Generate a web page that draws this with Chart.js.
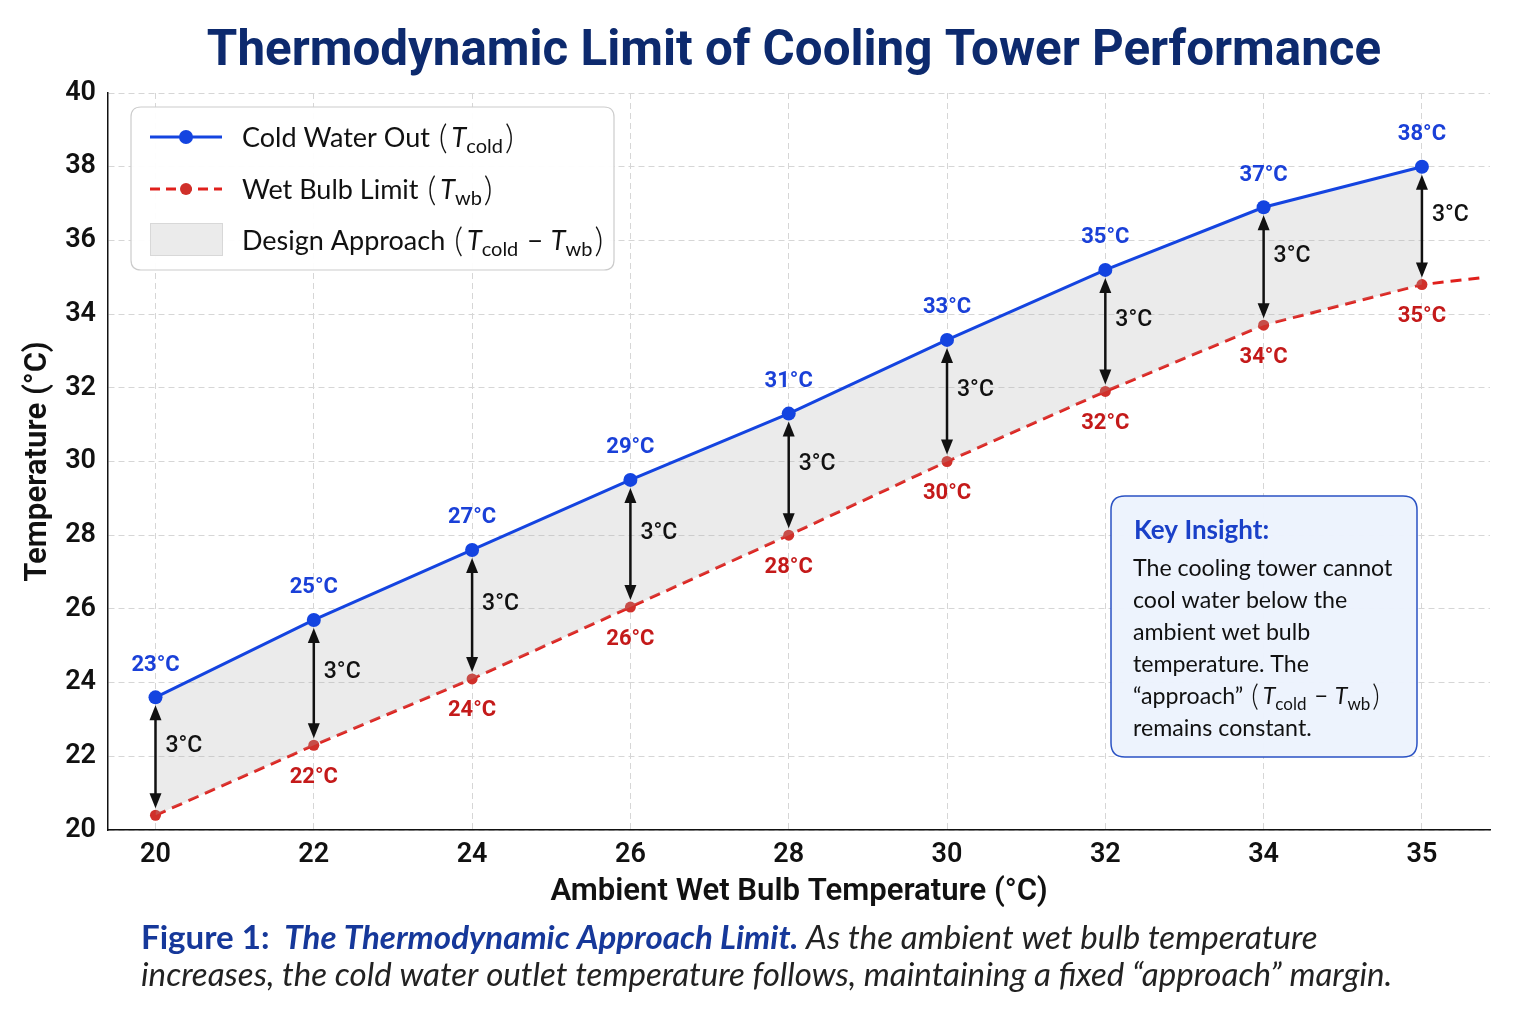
<!DOCTYPE html>
<html><head><meta charset="utf-8">
<script src="https://cdn.jsdelivr.net/npm/chart.js@4.4.1/dist/chart.umd.min.js"></script>
<style>html,body{margin:0;padding:0;background:#fff;}canvas{display:block;}</style>
</head><body>
<canvas id="c" width="1536" height="1024"></canvas>
<script>
// ---------- data ----------
const categories = ['20','22','24','26','28','30','32','34','35'];
const coldWaterOut = [23.6, 25.7, 27.6, 29.5, 31.3, 33.3, 35.2, 36.9, 38.0];
const wetBulbLimit = [20.4, 22.3, 24.1, 26.05, 28.0, 30.0, 31.9, 33.7, 34.8];
const wetBulbTailPos = 8.4;     // dashed line continues past last category
const wetBulbTailValue = 35.0;
const coldLabels = ['23°C','25°C','27°C','29°C','31°C','33°C','35°C','37°C','38°C'];
const wetLabels = ['','22°C','24°C','26°C','28°C','30°C','32°C','34°C','35°C'];
const approachLabels = ['3°C','3°C','3°C','3°C','3°C','3°C','3°C','3°C','3°C'];
const yMin = 20, yMax = 40, yStep = 2;

const titleText = 'Thermodynamic Limit of Cooling Tower Performance';
const xTitle = 'Ambient Wet Bulb Temperature (°C)';
const yTitle = 'Temperature (°C)';
const insightTitle = 'Key Insight:';
const insightLines = ['The cooling tower cannot','cool water below the','ambient wet bulb','temperature. The'];

// ---------- helpers ----------
const mctx = document.createElement('canvas').getContext('2d');
function fit(text, fontTpl, target) {
  mctx.font = fontTpl.replace('{s}', 100);
  const w = mctx.measureText(text).width;
  return Math.round(100 * target / w * 10) / 10;
}
const SANS = "Roboto, 'Liberation Sans', Arial, sans-serif";
const HUM = "Lato, 'Open Sans', 'Noto Sans', sans-serif";
const xTitleSize = fit(xTitle, "600 {s}px " + SANS, 498);
const yTitleSize = fit(yTitle, "600 {s}px " + SANS, 241);

function drawRich(ctx, x, y, segs) {
  ctx.textBaseline = 'alphabetic';
  ctx.textAlign = 'left';
  for (const s of segs) {
    ctx.font = s.font;
    ctx.fillStyle = s.color || '#111';
    ctx.fillText(s.text, x, y + (s.dy || 0));
    x += ctx.measureText(s.text).width + (s.gap || 0);
  }
  return x;
}
function mathSegs(size, parts) {
  // kinds: 'n' normal, 'i' italic, 's' subscript, 'p' big paren, 'm' operator
  return parts.map(([t, k]) => {
    if (k === 'i') return {text: t, font: `italic ${size}px ${HUM}`};
    if (k === 's') return {text: t, font: `${Math.round(size*0.74)}px ${HUM}`, dy: size*0.24, gap: 2};
    if (k === 'p') return {text: t, font: `300 ${Math.round(size*1.25)}px ${HUM}`, dy: size*0.07, gap: 4};
    if (k === 'm') return {text: t, font: `${size}px ${HUM}`, gap: 1};
    return {text: t, font: `${size}px ${HUM}`, gap: 2};
  });
}
function roundRect(ctx, x, y, w, h, r) {
  ctx.beginPath();
  ctx.moveTo(x+r, y); ctx.lineTo(x+w-r, y); ctx.quadraticCurveTo(x+w, y, x+w, y+r);
  ctx.lineTo(x+w, y+h-r); ctx.quadraticCurveTo(x+w, y+h, x+w-r, y+h);
  ctx.lineTo(x+r, y+h); ctx.quadraticCurveTo(x, y+h, x, y+h-r);
  ctx.lineTo(x, y+r); ctx.quadraticCurveTo(x, y, x+r, y); ctx.closePath();
}
function arrow(ctx, x, yTop, yBot) {
  const hl = 15, hw = 6;
  ctx.save();
  ctx.strokeStyle = '#111'; ctx.fillStyle = '#111'; ctx.lineWidth = 2.5;
  ctx.beginPath(); ctx.moveTo(x, yTop + hl - 2); ctx.lineTo(x, yBot - hl + 2); ctx.stroke();
  ctx.beginPath(); ctx.moveTo(x, yTop); ctx.lineTo(x - hw, yTop + hl); ctx.lineTo(x + hw, yTop + hl); ctx.closePath(); ctx.fill();
  ctx.beginPath(); ctx.moveTo(x, yBot); ctx.lineTo(x - hw, yBot - hl); ctx.lineTo(x + hw, yBot - hl); ctx.closePath(); ctx.fill();
  ctx.restore();
}

const BLUE = '#1444e0', RED = '#e0201c';

const decor = {
  id: 'decor',
  beforeDraw(chart) {
    const ctx = chart.ctx;
    ctx.save(); ctx.fillStyle = '#fff'; ctx.fillRect(0, 0, chart.width, chart.height); ctx.restore();
  },
  afterDatasetsDraw(chart) {
    const ctx = chart.ctx;
    const blue = chart.getDatasetMeta(0).data;
    const red = chart.getDatasetMeta(1).data;
    ctx.save();
    for (let i = 0; i < categories.length; i++) {
      const b = blue[i], r = red[i];
      arrow(ctx, b.x, b.y + 8, r.y - 7);
      ctx.font = `500 23px ${SANS}`; ctx.fillStyle = '#111';
      ctx.textAlign = 'left'; ctx.textBaseline = 'middle';
      ctx.fillText(approachLabels[i], b.x + 10, (b.y + r.y) / 2 - 10);
    }
    ctx.textAlign = 'center'; ctx.textBaseline = 'middle';
    ctx.font = `bold 22px ${SANS}`;
    for (let i = 0; i < categories.length; i++) {
      ctx.fillStyle = '#1a40d8';
      ctx.fillText(coldLabels[i], blue[i].x, blue[i].y - 32);
      if (wetLabels[i]) { ctx.fillStyle = '#c41a1a'; ctx.fillText(wetLabels[i], red[i].x, red[i].y + 32); }
    }
    // legend
    roundRect(ctx, 131, 107, 483, 163, 10);
    ctx.fillStyle = 'rgba(255,255,255,0.95)'; ctx.fill();
    ctx.strokeStyle = '#cccccc'; ctx.lineWidth = 1.2; ctx.stroke();
    ctx.strokeStyle = BLUE; ctx.lineWidth = 3; ctx.setLineDash([]);
    ctx.beginPath(); ctx.moveTo(150, 137); ctx.lineTo(222, 137); ctx.stroke();
    ctx.fillStyle = BLUE; ctx.beginPath(); ctx.arc(186, 137, 7, 0, Math.PI*2); ctx.fill();
    ctx.strokeStyle = RED; ctx.lineWidth = 3; ctx.setLineDash([10, 6]);
    ctx.beginPath(); ctx.moveTo(150, 189); ctx.lineTo(222, 189); ctx.stroke(); ctx.setLineDash([]);
    ctx.fillStyle = '#d0302a'; ctx.beginPath(); ctx.arc(186, 189, 6, 0, Math.PI*2); ctx.fill();
    ctx.fillStyle = '#ebebeb'; ctx.fillRect(150, 223, 72, 32);
    ctx.strokeStyle = '#d8d8d8'; ctx.lineWidth = 1; ctx.strokeRect(150.5, 223.5, 72, 32);
    const ls = 27;
    drawRich(ctx, 242, 147, mathSegs(ls, [['Cold Water Out ', 'n'], ['(', 'p'], ['T', 'i'], ['cold', 's'], [')', 'p']]));
    drawRich(ctx, 242, 199, mathSegs(ls, [['Wet Bulb Limit ', 'n'], ['(', 'p'], ['T', 'i'], ['wb', 's'], [')', 'p']]));
    drawRich(ctx, 242, 250, mathSegs(ls, [['Design Approach ', 'n'], ['(', 'p'], ['T', 'i'], ['cold', 's'], [' − ', 'm'], ['T', 'i'], ['wb', 's'], [')', 'p']]));
    // insight box
    roundRect(ctx, 1111, 496, 306, 261, 14);
    ctx.fillStyle = 'rgba(236,242,253,0.96)'; ctx.fill();
    ctx.strokeStyle = '#2a52c4'; ctx.lineWidth = 1.5; ctx.stroke();
    ctx.textAlign = 'left'; ctx.textBaseline = 'alphabetic';
    ctx.font = `bold 26px ${HUM}`; ctx.fillStyle = '#1a40c8';
    ctx.fillText(insightTitle, 1134, 539);
    const bs = fit(insightLines[0], "{s}px " + HUM, 259);
    ctx.font = `${bs}px ${HUM}`; ctx.fillStyle = '#111';
    insightLines.forEach((t, k) => ctx.fillText(t, 1133, 576 + k * 32));
    drawRich(ctx, 1133, 704, mathSegs(bs, [['“approach” ', 'n'], ['(', 'p'], ['T', 'i'], ['cold', 's'], [' − ', 'm'], ['T', 'i'], ['wb', 's'], [')', 'p']]));
    ctx.font = `${bs}px ${HUM}`; ctx.fillStyle = '#111';
    ctx.fillText('remains constant.', 1133, 736);
    ctx.restore();
  },
  afterDraw(chart) {
    const ctx = chart.ctx;
    ctx.save();
    const ts = fit(titleText, "bold {s}px " + SANS, 1174);
    ctx.font = `bold ${ts}px ${SANS}`; ctx.fillStyle = '#0d2a6e';
    ctx.textAlign = 'center'; ctx.textBaseline = 'middle';
    ctx.fillText(titleText, 794, 53);
    const l2 = 'increases, the cold water outlet temperature follows, maintaining a fixed “approach” margin.';
    const cs = fit(l2, "italic {s}px " + HUM, 1251);
    drawRich(ctx, 141, 949, [
      {text: 'Figure 1:', font: `bold ${cs}px ${HUM}`, color: '#16389a', gap: cs*0.45},
      {text: 'The Thermodynamic Approach Limit.', font: `italic bold ${cs}px ${HUM}`, color: '#16389a'},
      {text: ' As the ambient wet bulb temperature', font: `italic ${cs}px ${HUM}`, color: '#222'}
    ]);
    drawRich(ctx, 141, 986, [{text: l2, font: `italic ${cs}px ${HUM}`, color: '#222'}]);
    ctx.restore();
  }
};

const gridColor = '#d6d6d6';
new Chart(document.getElementById('c'), {
  type: 'line',
  data: {
    datasets: [
      {
        label: 'Cold Water Out',
        data: coldWaterOut.map((v, i) => ({x: i, y: v})),
        borderColor: BLUE, backgroundColor: BLUE, borderWidth: 3,
        pointRadius: 7, pointHoverRadius: 7, pointBackgroundColor: BLUE, pointBorderWidth: 0,
        fill: {target: 1, above: 'rgba(170,170,170,0.24)', below: 'rgba(170,170,170,0.24)'},
        tension: 0
      },
      {
        label: 'Wet Bulb Limit',
        data: wetBulbLimit.map((v, i) => ({x: i, y: v})).concat([{x: wetBulbTailPos, y: wetBulbTailValue}]),
        borderColor: RED, backgroundColor: '#d0302a', borderWidth: 3, borderDash: [11, 7],
        pointRadius: wetBulbLimit.map(() => 5.5).concat([0]),
        pointBackgroundColor: '#d0302a', pointBorderWidth: 0,
        fill: false, tension: 0
      }
    ]
  },
  options: {
    responsive: false, animation: false, devicePixelRatio: 1,
    layout: {padding: {top: 93, right: 46, bottom: 114, left: 0}},
    plugins: {legend: {display: false}, title: {display: false}, tooltip: {enabled: false}},
    scales: {
      x: {
        type: 'linear', min: -0.3, max: 8.43,
        afterBuildTicks: s => { s.ticks = categories.map((c, i) => ({value: i})); },
        afterFit: s => { s.height = 80; },
        ticks: {callback: v => categories[v] ?? '', font: {family: SANS, size: 27, weight: '600'}, color: '#111', padding: 9, maxRotation: 0, autoSkip: false},
        grid: {color: gridColor, lineWidth: 1, drawTicks: false},
        border: {display: true, color: '#111', width: 1.5, dash: [6, 4]},
        title: {display: true, text: xTitle, color: '#111', font: {family: SANS, size: xTitleSize, weight: '600'}, padding: {top: 0, bottom: -1}}
      },
      y: {
        min: yMin, max: yMax,
        afterFit: s => { s.width = 108; },
        ticks: {stepSize: yStep, font: {family: SANS, size: 27, weight: '600'}, color: '#111', padding: 12},
        grid: {color: gridColor, lineWidth: 1, drawTicks: false},
        border: {display: true, color: '#111', width: 1.5, dash: [6, 4]},
        title: {display: true, text: yTitle, color: '#111', font: {family: SANS, size: yTitleSize, weight: '600'}, padding: {top: 19, bottom: 0}}
      }
    }
  },
  plugins: [decor]
});
</script>
</body></html>
